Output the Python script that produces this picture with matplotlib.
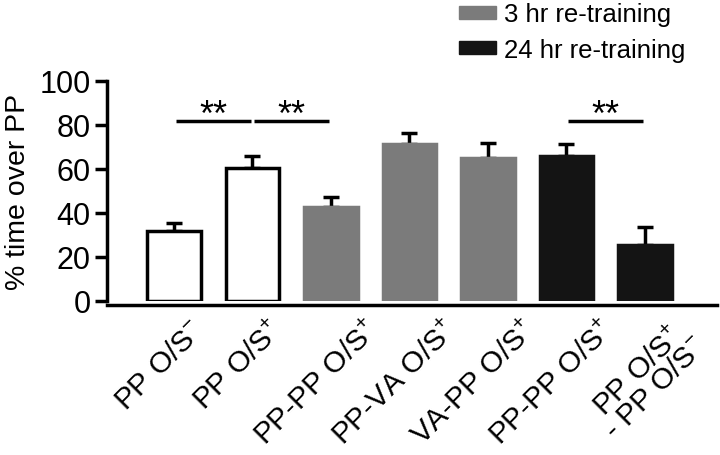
import matplotlib
matplotlib.use("Agg")
import matplotlib.pyplot as plt
import matplotlib.transforms as mtransforms
import numpy as np
from matplotlib.patches import Patch

plt.rcParams["font.family"] = ["Liberation Sans", "DejaVu Sans"]
plt.rcParams["mathtext.fontset"] = "custom"
plt.rcParams["mathtext.rm"] = "Liberation Sans"

# Data
labels = [
    r"PP O/S$^{-}$",
    r"PP O/S$^{+}$",
    r"PP-PP O/S$^{+}$",
    r"PP-VA O/S$^{+}$",
    r"VA-PP O/S$^{+}$",
    r"PP-PP O/S$^{+}$",
    "PP O/S$^{+}$\n- PP O/S$^{-}$",
]
means = [31.5, 60.5, 42.5, 71.0, 65.0, 66.0, 25.5]
sems = [4.0, 5.5, 4.5, 5.0, 6.5, 5.0, 8.0]
groups = ["none", "none", "3hr", "3hr", "3hr", "24hr", "24hr"]
sig_pairs = [(0, 1), (1, 2), (5, 6)]
sig_y = 81.5

face = {"none": "white", "3hr": "#7b7b7b", "24hr": "#141414"}
edge = {"none": "black", "3hr": "#7b7b7b", "24hr": "#141414"}

fig = plt.figure(figsize=(7.2, 4.56), dpi=100)
ax = fig.add_axes([0.149, 0.338, 0.847, 0.483])

# spines first: set_position resets the tick labels
for s in ["top", "right"]:
    ax.spines[s].set_visible(False)
ax.spines["left"].set_linewidth(2.5)
ax.spines["bottom"].set_linewidth(2.5)
ax.spines["bottom"].set_position(("outward", 3))

x = np.arange(len(means))
ax.bar(x, means, width=0.68,
       color=[face[g] for g in groups],
       edgecolor=[edge[g] for g in groups],
       linewidth=2.5, zorder=2)
ax.errorbar(x, means, yerr=[np.zeros(len(sems)), sems], fmt="none",
            ecolor="black", elinewidth=2.5, capsize=6, capthick=2.5, zorder=1)

for a, b in sig_pairs:
    ax.plot([a + 0.02, b - 0.02], [sig_y, sig_y], color="black", lw=2.5,
            solid_capstyle="butt", clip_on=False)
    ax.text((a + b) / 2, sig_y - 1.5, "**", ha="center", va="baseline",
            fontsize=26)

ax.set_xlim(-0.85, 6.92)
ax.set_ylim(0, 100)
ax.set_yticks([0, 20, 40, 60, 80, 100])
ax.set_ylabel("% time over PP", fontsize=20.5, labelpad=6)
ax.tick_params(axis="x", length=0, pad=7)
ax.tick_params(axis="y", labelsize=22, length=9, width=2.5, pad=3)
ax.set_xticks(x)
ax.set_xticklabels(labels, rotation=45, ha="center", va="top",
                   fontsize=21.5, linespacing=0.75)
# nudge labels left of their bars; the two-line one sits further right
for i, lab in enumerate(ax.get_xticklabels()):
    dx = 2 if i == len(labels) - 1 else -14
    shift = mtransforms.ScaledTranslation(dx / 100, 0, fig.dpi_scale_trans)
    lab.set_transform(lab.get_transform() + shift)

handles = [Patch(facecolor=face["3hr"], edgecolor=face["3hr"]),
           Patch(facecolor=face["24hr"], edgecolor=face["24hr"])]
fig.legend(handles, ["3 hr re-training", "24 hr re-training"],
           loc="upper left", bbox_to_anchor=(0.612, 1.032), frameon=False,
           fontsize=18.5, handlelength=1.45, handleheight=0.4,
           handletextpad=0.3, labelspacing=0.45, borderaxespad=0.3)

fig.savefig("out.png", dpi=100)
